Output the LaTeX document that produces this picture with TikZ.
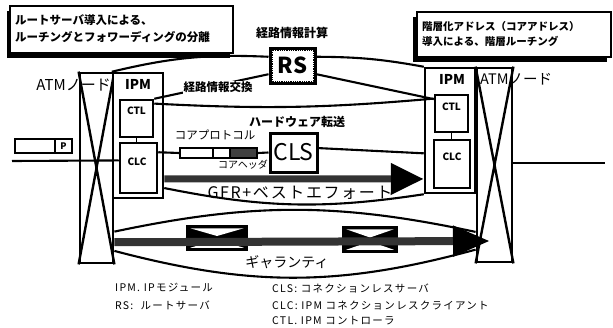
\documentclass[tikz,border=0pt]{standalone}
\usepackage{fontspec}
\setmainfont{Noto Sans CJK JP}
\newfontfamily\lgfont{Noto Sans CJK JP}[LetterSpace=12]
\newfontfamily\widefont{Noto Sans CJK JP}[LetterSpace=10]
\usetikzlibrary{arrows.meta,calc}
\newcommand{\myfs}[1]{\fontsize{#1}{#1}\selectfont}
\begin{document}
\begin{tikzpicture}[x=1pt,y=-1pt,
  bx/.style={draw,line width=2.5pt,inner sep=0pt,fill=white},
  atm/.style={draw,line width=2.8pt,inner sep=0pt,fill=white},
  txt/.style={inner sep=0pt},
  ln/.style={line width=2.1pt},
  band/.style={line width=#1,black!80},
  callout/.style={draw,line width=1.2pt,fill=white,inner sep=0pt},
  sw/.style={draw,line width=1.5pt,fill=black,inner sep=0pt},
  pk/.style={draw,line width=1.6pt,fill=white,inner sep=0pt,minimum height=10pt},
  lg/.style={inner sep=0pt,anchor=west,font=\lgfont\myfs{10.5}}]
\useasboundingbox (0,0) rectangle (613,327);

% ---- callouts
\fill (7,11) rectangle (230,58);
\node[callout,minimum width=223pt,minimum height=47pt] (callL) at (121.5,29.5) {};
\node[txt,anchor=west,font=\myfs{11.5}\bfseries] (callLa) at (15,20) {ルートサーバ導入による、};
\node[txt,anchor=west,font=\myfs{11.5}\bfseries] (callLb) at (15,37) {ルーチングとフォワーディングの分離};

\fill (413,17) rectangle (607,62);
\node[callout,minimum width=194pt,minimum height=45pt] (callR) at (514,34.5) {};
\node[txt,anchor=west,font=\myfs{10.5}\bfseries] (callRa) at (422,27) {階層化アドレス（コアアドレス）};
\node[txt,anchor=west,font=\myfs{10.5}\bfseries] (callRb) at (422,41) {導入による、階層ルーチング};

% ---- left node
\node[atm,minimum width=33pt,minimum height=190pt] (atmL) at (96.5,168) {};
\draw[line width=2.4pt] (atmL.north west) -- (atmL.south east) (atmL.north east) -- (atmL.south west);
\node[bx,minimum width=50pt,minimum height=125pt] (ipmL) at (138,135.5) {};
\node[bx,minimum width=33pt,minimum height=37pt] (ctlL) at (136.5,118.5) {};
\node[bx,minimum width=37pt,minimum height=50pt] (clcL) at (138.5,168) {};
\draw[line width=1.6pt] (ctlL.south) -- (ctlL.south |- clcL.north);
\node[txt,font=\myfs{10}\bfseries] (ctlLt) at (136.5,111) {CTL};
\node[txt,font=\myfs{10}\bfseries] (clcLt) at (137,162) {CLC};
\node[txt,font=\myfs{13.5}\bfseries] (ipmLt) at (138,84) {IPM};
\node[txt,anchor=east,font=\myfs{15}] (atmLt) at (111,85) {ATMノード};

% ---- right node
\node[atm,minimum width=35pt,minimum height=194pt] (atmR) at (494.5,165) {};
\draw[line width=2.4pt] (atmR.north west) -- (atmR.south east) (atmR.north east) -- (atmR.south west);
\node[bx,minimum width=50pt,minimum height=125pt] (ipmR) at (450,130.5) {};
\node[bx,minimum width=33pt,minimum height=37pt] (ctlR) at (451.5,113.5) {};
\node[bx,minimum width=36pt,minimum height=48pt] (clcR) at (452,164) {};
\draw[line width=1.6pt] (ctlR.south) -- (ctlR.south |- clcR.north);
\node[txt,font=\myfs{10}\bfseries] (ctlRt) at (451.5,107) {CTL};
\node[txt,font=\myfs{10}\bfseries] (clcRt) at (452,157) {CLC};
\node[txt,font=\myfs{13.5}\bfseries] (ipmRt) at (452,79) {IPM};
\node[txt,anchor=west,font=\myfs{14.5}] (atmRt) at (480,79) {ATMノード};

% ---- outer access lines
\node[draw,line width=1.6pt,minimum width=40pt,minimum height=14pt,inner sep=0pt] (pb1) at (35,146) {};
\node[draw,line width=1.6pt,minimum width=17pt,minimum height=14pt,inner sep=0pt,font=\myfs{9}\bfseries] (pb2) at (63.5,146) {P};
\coordinate (lS) at (12,161);
\draw[ln] (lS) -- (clcL.159);
\coordinate (rE) at (605,163);
\draw[ln] ($(atmR.east)+(0,-2)$) -- (rE);

% ---- route server
\node[bx,line width=3pt,minimum width=45pt,minimum height=35pt,font=\myfs{22}\bfseries] (rs) at (292.5,65.5) {RS};
\draw[densely dotted,line width=0.8pt] ($(rs.north west)+(3.5,3.5)$) rectangle ($(rs.south east)+(-3.5,-3.5)$);
\node[txt,font=\myfs{12}\bfseries] (rsl) at (292,33) {経路情報計算};
\draw[ln] (ipmL.north west) to[bend left=8] (rs.160);
\draw[ln] (rs.20) to[bend left=5] (ipmR.north west);
\draw[ln] (ctlL.north east) -- (rs.200);
\draw[ln] (rs.340) -- (ctlR.141);
\draw[ln] (ctlL.40) to[bend right=4] (ctlR.140);
\node[txt,fill=white,inner sep=1pt,font=\myfs{11.5}\bfseries] (xchg) at (218,87) {経路情報交換};

% ---- connectionless path
\node[pk,minimum width=33pt] (pk1) at (196.5,153) {};
\node[pk,minimum width=17pt] (pk2) at (221.5,153) {};
\node[pk,minimum width=27pt,fill=black!75] (pk3) at (243.5,153) {};
\node[bx,line width=3pt,minimum width=47pt,minimum height=39pt,font=\myfs{23}] (cls) at (293.5,152.5) {CLS};
\draw[ln] ($(clcL.north east)!0.2!(clcL.south east)$) -- (pk1.west);
\draw[ln] (pk3.east) -- (cls.west);
\draw[ln] (cls.10) -- (ipmR.221);
\node[txt,font=\myfs{12}\bfseries] (hw) at (297,122) {ハードウェア転送};
\node[txt,font=\myfs{11.5}] (cp) at (215,135) {コアプロトコル};
\node[txt,font=\myfs{10}] (ch) at (243,165) {コアヘッダ};

% ---- GFR + best effort
\coordinate (gS) at ($(ipmL.north east)!0.84!(ipmL.south east)$);
\coordinate (gE) at ($(ipmR.north west)!0.88!(ipmR.south west)$);
\draw[band=7pt,-{Triangle[length=33pt,width=30pt,black]}] (gS) -- (gE);
\draw[ln] ($(ipmL.north east)!0.912!(ipmL.south east)$) to[bend right=10] (ipmR.south west);
\node[txt,font=\widefont\myfs{16}] (gfr) at (300,193) {GFR+ベストエフォート};

% ---- guaranteed
\coordinate (tS) at ($(atmL.north east)!0.83!(atmL.south east)$);
\coordinate (tE) at ($(atmR.north west)!0.84!(atmR.south west)$);
\draw[ln] (tS) to[bend left=12] (tE);
\coordinate (bS) at ($(atmL.north east)!0.93!(atmL.south east)$);
\coordinate (bE) at ($(atmR.north west)!0.93!(atmR.south west)$);
\draw[ln] (bS) to[bend right=15] (bE);

\node[sw,minimum width=60pt,minimum height=24pt] (sw1) at (217,238) {};
\fill[white] ($(sw1.north west)+(4,3)$) -- ($(sw1.north east)+(-4,3)$) -- ($(sw1.center)+(0,-2)$) -- cycle;
\fill[white] ($(sw1.south west)+(4,-3)$) -- ($(sw1.south east)+(-4,-3)$) -- ($(sw1.center)+(0,2)$) -- cycle;
\node[sw,minimum width=54pt,minimum height=25pt] (sw2) at (370,239.5) {};
\fill[white] ($(sw2.north west)+(4,3)$) -- ($(sw2.north east)+(-4,3)$) -- ($(sw2.center)+(0,-2)$) -- cycle;
\fill[white] ($(sw2.south west)+(4,-3)$) -- ($(sw2.south east)+(-4,-3)$) -- ($(sw2.center)+(0,2)$) -- cycle;

\coordinate (aS) at ($(atmL.north east)!0.885!(atmL.south east)$);
\coordinate (aE) at (490,241);
\draw[band=8pt,-{Triangle[length=37pt,width=29pt,black]}] (aS) -- (aE);
\node[txt,font=\myfs{14}] (gt) at (287,262) {ギャランティ};

% ---- legend
\node[lg] (lg1) at (115,288) {IPM. IPモジュール};
\node[lg] (lg2) at (115,305) {RS:\ \ ルートサーバ};
\node[lg] (lg3) at (272,288) {CLS: コネクションレスサーバ};
\node[lg] (lg4) at (272,306) {CLC: IPM コネクションレスクライアント};
\node[lg] (lg5) at (272,321) {CTL. IPM コントローラ};
\end{tikzpicture}
\end{document}
